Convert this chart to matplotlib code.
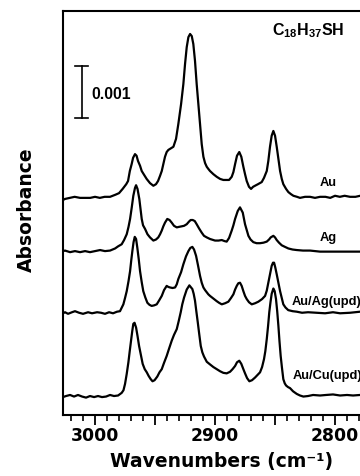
import matplotlib
matplotlib.use("Agg")
import matplotlib.pyplot as plt
from matplotlib.ticker import MultipleLocator, FuncFormatter

plt.rcParams['mathtext.fontset'] = 'custom'
plt.rcParams['mathtext.bf'] = 'Liberation Sans:bold'
plt.rcParams['mathtext.rm'] = 'Liberation Sans:bold'

# ---------------- data (absorbance in units of 1e-3, relative to each baseline) -------------
au_wn = [3026.7, 3025, 3021, 3017, 3012.5, 3008, 3004, 3000, 2996, 2992, 2987.5, 2983, 2980, 2977,
         2974, 2972.5, 2971, 2969.5, 2968.3, 2966.7, 2965.4, 2964.2, 2962.5, 2961.1, 2959.2, 2957,
         2954.2, 2951.4, 2949.2, 2947.5, 2945.8, 2944.4, 2943.1, 2941.7, 2940.3, 2938.9, 2937.5,
         2934.7, 2932.5, 2930.6, 2928.3, 2926.4, 2925, 2923.6, 2922.2, 2920.8, 2919.4, 2918.1,
         2916.7, 2915.3, 2913.9, 2912.5, 2911.1, 2909.7, 2908.3, 2906.9, 2905.6, 2904.2, 2901.4,
         2898.6, 2895.8, 2893.1, 2890.3, 2888.3, 2886.1, 2884.7, 2883.3, 2881.7, 2879.8, 2878.1,
         2876.4, 2875, 2873.6, 2871.7, 2870, 2868.3, 2866.7, 2864.2, 2861.1, 2859.2, 2856.9, 2855.6,
         2854.2, 2852.8, 2851.4, 2850, 2848.6, 2847.2, 2845.8, 2844.4, 2843.1, 2840.8, 2838.9,
         2836.7, 2834.7, 2831.7, 2829.2, 2825, 2820.8, 2816.7, 2812.5, 2808, 2804, 2800, 2796, 2792,
         2787.5, 2783, 2779, 2770]
au_abs = [-0.02, 0.00, 0.02, 0.04, 0.02, 0.02, 0.02, 0.04, 0.02, 0.04, 0.04, 0.08, 0.11, 0.19,
          0.28, 0.34, 0.53, 0.66, 0.78, 0.85, 0.82, 0.72, 0.63, 0.53, 0.46, 0.38,
          0.30, 0.25, 0.28, 0.34, 0.44, 0.53, 0.66, 0.80, 0.89, 0.93, 0.95,
          0.99, 1.14, 1.42, 1.80, 2.18, 2.56, 2.88, 3.07, 3.13, 3.09, 2.94,
          2.62, 2.18, 1.80, 1.42, 1.04, 0.80, 0.68, 0.61, 0.57, 0.53, 0.47,
          0.42, 0.38, 0.36, 0.36, 0.36, 0.42, 0.51, 0.66, 0.82, 0.89, 0.80,
          0.61, 0.47, 0.34, 0.23, 0.19, 0.23, 0.25, 0.28, 0.32, 0.40, 0.53, 0.72,
          0.99, 1.20, 1.29, 1.20, 0.99, 0.76, 0.53, 0.38, 0.28, 0.19, 0.13,
          0.09, 0.06, 0.04, 0.02, 0.04, 0.04, 0.02, 0.04, 0.04, 0.02, 0.06, 0.04, 0.06,
          0.04, 0.04, 0.06, 0.05]

ag_wn = [3026.7, 3025.0, 3020.8, 3016.7, 3012.5, 3008.3, 3004.2, 3000.0, 2995.8, 2991.7, 2987.5,
         2983.3, 2980.8, 2977.8, 2975.8, 2973.6, 2972.1, 2970.8, 2969.4, 2968.1, 2966.7, 2965.8,
         2964.6, 2963.1, 2961.1, 2960.0, 2958.3, 2956.3, 2954.2, 2951.4, 2949.2, 2947.3, 2945.8,
         2944.4, 2943.1, 2941.7, 2939.8, 2937.9, 2936.1, 2934.2, 2931.9, 2930.0, 2927.8, 2925.8,
         2923.6, 2921.7, 2920.3, 2918.6, 2916.9, 2915.3, 2913.3, 2911.1, 2909.2, 2906.9, 2904.2,
         2900.0, 2897.1, 2894.4, 2892.1, 2890.3, 2888.3, 2886.1, 2884.7, 2883.3, 2881.1, 2879.2,
         2876.9, 2875.0, 2873.6, 2872.2, 2870.4, 2868.1, 2865.4, 2862.5, 2859.6, 2856.9, 2855.0,
         2853.6, 2851.4, 2850.0, 2848.6, 2846.7, 2844.4, 2841.7, 2838.9, 2835.4, 2831.9, 2826.7,
         2820.8, 2812.5, 2801.7, 2791.7, 2779.2, 2770]
ag_abs = [0.00, 0.01, -0.02, 0.00, -0.02, 0.00, -0.02, 0.00, 0.02, 0.00, 0.01,
          0.05, 0.09, 0.13, 0.21, 0.32, 0.46, 0.61, 0.83, 1.05, 1.20, 1.25,
          1.18, 0.99, 0.61, 0.49, 0.42, 0.32, 0.26, 0.20, 0.22, 0.26, 0.32,
          0.39, 0.47, 0.54, 0.61, 0.59, 0.54, 0.48, 0.45, 0.46, 0.47, 0.48,
          0.51, 0.56, 0.59, 0.59, 0.57, 0.51, 0.43, 0.35, 0.29, 0.26, 0.23,
          0.20, 0.20, 0.21, 0.19, 0.18, 0.25, 0.39, 0.49, 0.61, 0.76, 0.83,
          0.73, 0.51, 0.40, 0.29, 0.22, 0.17, 0.15, 0.15, 0.16, 0.18, 0.22,
          0.26, 0.29, 0.26, 0.21, 0.16, 0.11, 0.08, 0.05, 0.03, 0.02, 0.01,
          0.01, -0.01, -0.01, -0.01, -0.01, -0.01]

auag_wn = [3026.7, 3025.0, 3022.5, 3019.2, 3016.7, 3013.3, 3010.0, 3005.8, 3002.5, 2998.3, 2995.0,
           2991.7, 2988.3, 2985.0, 2981.7, 2979.2, 2976.4, 2975.0, 2973.6, 2972.1, 2970.8, 2969.8,
           2968.9, 2967.9, 2966.9, 2965.8, 2964.8, 2963.6, 2962.5, 2961.1, 2959.8, 2958.1, 2956.4,
           2954.6, 2952.8, 2950.8, 2948.6, 2946.7, 2944.4, 2942.5, 2940.3, 2938.9, 2937.5, 2935.4,
           2933.3, 2931.9, 2930.6, 2928.3, 2926.4, 2924.2, 2922.2, 2920.6, 2918.9, 2917.5, 2915.8,
           2914.2, 2912.5, 2911.1, 2909.7, 2908.3, 2905.6, 2904.2, 2901.4, 2898.6, 2896.7, 2894.4,
           2891.7, 2888.9, 2886.7, 2884.7, 2883.3, 2881.9, 2880.6, 2879.2, 2877.8, 2876.4, 2875.0,
           2873.6, 2871.7, 2869.4, 2866.7, 2863.9, 2860.8, 2858.3, 2856.9, 2855.6, 2854.2, 2852.8,
           2851.7, 2850.8, 2849.8, 2848.6, 2847.2, 2845.8, 2844.4, 2843.1, 2841.3, 2839.0, 2835.4,
           2831.9, 2827.5, 2822.5, 2815.4, 2808.3, 2801.7, 2795.8, 2787.5, 2779.2, 2770]
auag_abs = [-0.02, 0.00, -0.03, 0.00, 0.02, -0.01, -0.03, 0.00, -0.02, 0.00, -0.01,
            -0.03, 0.00, -0.02, 0.01, 0.02, 0.15, 0.27, 0.40, 0.59, 0.78, 0.99,
            1.16, 1.33, 1.43, 1.39, 1.23, 1.01, 0.78, 0.57, 0.40, 0.28, 0.18,
            0.14, 0.12, 0.13, 0.15, 0.22, 0.31, 0.42, 0.50, 0.48, 0.47, 0.46,
            0.47, 0.53, 0.63, 0.76, 0.91, 1.06, 1.16, 1.22, 1.24, 1.19, 1.07,
            0.89, 0.69, 0.56, 0.47, 0.42, 0.34, 0.31, 0.26, 0.21, 0.18, 0.15,
            0.17, 0.20, 0.27, 0.34, 0.43, 0.50, 0.55, 0.56, 0.50, 0.40, 0.31,
            0.25, 0.19, 0.15, 0.17, 0.20, 0.25, 0.31, 0.41, 0.56, 0.72, 0.88,
            0.94, 0.94, 0.85, 0.72, 0.56, 0.40, 0.27, 0.15, 0.09, 0.04, 0.02,
            0.01, -0.01, 0.00, -0.01, -0.02, 0.00, -0.02, -0.01, 0.01, 0.00]

aucu_wn = [3026.7, 3024.2, 3020.8, 3017.5, 3014.2, 3010.8, 3007.5, 3004.2, 3000.8, 2997.5, 2994.2,
           2990.8, 2987.5, 2984.2, 2980.8, 2977.8, 2976.3, 2975.0, 2973.6, 2972.2, 2971.1, 2970.0,
           2969.0, 2968.1, 2967.1, 2965.8, 2964.6, 2963.3, 2961.8, 2960.3, 2958.6, 2956.9, 2955.3,
           2953.6, 2952.1, 2950.4, 2948.1, 2946.3, 2944.4, 2942.5, 2940.3, 2938.3, 2936.1, 2934.2,
           2931.9, 2930.3, 2928.6, 2927.3, 2925.8, 2923.6, 2921.4, 2918.9, 2917.8, 2916.7, 2915.6,
           2914.4, 2913.2, 2911.9, 2910.6, 2909.2, 2906.9, 2904.2, 2901.4, 2898.6, 2895.8, 2893.1,
           2890.3, 2887.5, 2885.4, 2883.3, 2881.7, 2879.8, 2878.1, 2876.4, 2875.0, 2873.3, 2871.4,
           2869.2, 2866.7, 2864.6, 2862.5, 2860.8, 2859.2, 2858.1, 2856.9, 2855.8, 2854.8, 2853.8,
           2852.8, 2851.4, 2850.3, 2849.2, 2848.2, 2847.2, 2846.3, 2845.3, 2844.2, 2843.1, 2841.9,
           2840.8, 2839.2, 2837.5, 2835.0, 2831.9, 2829.2, 2826.4, 2822.5, 2818.3, 2812.5, 2807.5,
           2801.7, 2795.8, 2790.0, 2785.0, 2779.2, 2770]
aucu_abs = [-0.02, 0.00, 0.02, -0.01, 0.02, -0.01, -0.03, 0.00, -0.02, 0.00, -0.02,
            -0.01, 0.02, 0.00, 0.01, 0.06, 0.11, 0.23, 0.42, 0.64, 0.85, 1.05,
            1.23, 1.37, 1.39, 1.30, 1.14, 0.95, 0.78, 0.61, 0.51, 0.45, 0.38,
            0.32, 0.28, 0.30, 0.37, 0.45, 0.51, 0.63, 0.76, 0.90, 1.05, 1.16,
            1.27, 1.42, 1.59, 1.74, 1.87, 2.02, 2.10, 2.03, 1.94, 1.81, 1.61,
            1.40, 1.18, 0.95, 0.83, 0.75, 0.65, 0.60, 0.55, 0.51, 0.47, 0.44,
            0.43, 0.46, 0.51, 0.57, 0.64, 0.67, 0.61, 0.51, 0.43, 0.34, 0.28,
            0.30, 0.35, 0.40, 0.45, 0.55, 0.70, 0.85, 1.08, 1.33, 1.59, 1.78,
            1.94, 2.04, 1.99, 1.84, 1.61, 1.33, 1.04, 0.76, 0.53, 0.32, 0.24,
            0.20, 0.17, 0.15, 0.09, 0.04, 0.01, -0.01, 0.00, 0.02, 0.01, 0.02,
            0.03, 0.01, 0.02, 0.01, 0.02, 0.02]

series_names = ["Au", "Ag", "Au/Ag(upd)", "Au/Cu(upd)"]
offsets = [4.10, 3.11, 1.95, 0.36]          # vertical stacking offsets (1e-3 abs units)
scale_bar_value = "0.001"
title_text = r"$\mathbf{C_{18}H_{37}SH}$"
x_ticks_labeled = [3000, 2900, 2800]

# ---------------- figure ----------------
W, H = 360, 477
fig = plt.figure(figsize=(W / 100, H / 100), dpi=100)

ax_left, ax_top, ax_bottom = 63, 12, 416
xmin, xmax = 3026.7, 2760.0
px_per_wn = 1.2
ax_w = (xmin - xmax) * px_per_wn
ax = fig.add_axes([ax_left / W, (H - ax_bottom) / H, ax_w / W, (ax_bottom - ax_top) / H])
ax.set_xlim(xmin, xmax)
ax.set_ylim(0, (ax_bottom - ax_top) / 52.7)

spectra = [(au_wn, au_abs), (ag_wn, ag_abs), (auag_wn, auag_abs), (aucu_wn, aucu_abs)]
for (wn, ab), off in zip(spectra, offsets):
    ax.plot(wn, [v + off for v in ab], color='black', lw=1.6, solid_joinstyle='round')

for s in ['right']:
    ax.spines[s].set_visible(False)
for s in ['left', 'top', 'bottom']:
    ax.spines[s].set_linewidth(1.5)

ax.yaxis.set_visible(False)
ax.xaxis.set_major_locator(MultipleLocator(50))
ax.xaxis.set_minor_locator(MultipleLocator(10))
ax.xaxis.set_major_formatter(FuncFormatter(
    lambda v, p: f"{v:.0f}" if round(v) in x_ticks_labeled else ""))
ax.tick_params(axis='x', which='major', direction='out', length=7.5, width=1.3, pad=0.5,
               labelsize=12.4)
ax.tick_params(axis='x', which='minor', direction='out', length=4, width=1.2)
for lab in ax.get_xticklabels():
    lab.set_fontweight('bold')
    lab.set_family('DejaVu Sans')

# series labels
label_pos = [(2812.5, 4.42), (2812.5, 3.38), (2836.3, 2.17), (2835.0, 0.76)]
for name, (lx, ly) in zip(series_names, label_pos):
    ax.text(lx, ly, name, ha='left', va='center', fontsize=9.3, fontweight='bold',
            family='Liberation Sans', clip_on=False)

# scale bar
sb_x, sb_y0 = 3011.1, 5.63
ax.plot([sb_x, sb_x], [sb_y0, sb_y0 + 1.0], color='black', lw=1.2)
ax.plot([sb_x - 5.4, sb_x + 5.4], [sb_y0, sb_y0], color='black', lw=1.2)
ax.plot([sb_x - 5.4, sb_x + 5.4], [sb_y0 + 1.0, sb_y0 + 1.0], color='black', lw=1.2)
ax.text(3002.8, 6.10, scale_bar_value, ha='left', va='center', fontsize=11.3,
        fontweight='bold', family='Liberation Sans')

# title
ax.text(2852.8, 7.23, title_text, ha='left', va='baseline', fontsize=11.5)

# axis labels
fig.text(222 / W, (H - 466.7) / H, "Wavenumbers (cm\u207b\u00b9)", ha='center', va='baseline',
         fontsize=13.5, fontweight='bold', family='DejaVu Sans')
fig.text(26 / W, (H - 209.5) / H, "Absorbance", ha='center', va='center', rotation=90,
         fontsize=13.5, fontweight='bold', family='DejaVu Sans')

fig.savefig("out.png", dpi=100)
